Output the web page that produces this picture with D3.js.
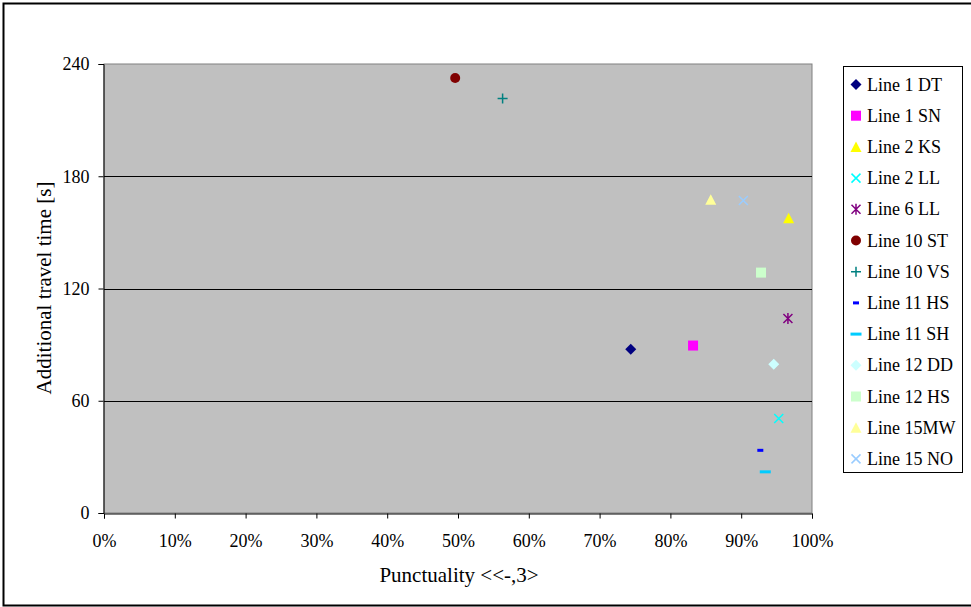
<!DOCTYPE html>
<html>
<head>
<meta charset="utf-8">
<script src="https://cdn.jsdelivr.net/npm/d3@7"></script>
<style>
  html, body { margin: 0; padding: 0; background: #fff; }
  svg text { font-family: "Liberation Serif", "Times New Roman", "DejaVu Serif", serif; fill: #000; }
</style>
</head>
<body>
<svg id="chart" width="971" height="607" style="display:block"></svg>
<script>
// Punctuality vs. additional travel time per line/direction
const lines = ["Line 1 DT", "Line 1 SN", "Line 2 KS", "Line 2 LL", "Line 6 LL", "Line 10 ST",
  "Line 10 VS", "Line 11 HS", "Line 11 SH", "Line 12 DD", "Line 12 HS", "Line 15MW", "Line 15 NO"];
const punctuality = [0.744, 0.832, 0.967, 0.953, 0.966, 0.496, 0.563, 0.927, 0.934, 0.946, 0.928, 0.857, 0.903];
const travelTime = [87.5, 89.5, 157.5, 50.5, 104, 232.5, 221.5, 33.5, 22, 79.5, 128.5, 167.5, 167];
const xTicks = [0, 0.1, 0.2, 0.3, 0.4, 0.5, 0.6, 0.7, 0.8, 0.9, 1.0];
const yTicks = [0, 60, 120, 180, 240];

// marker look per series
const markers = [
  { shape: "diamond", color: "#000080" },
  { shape: "square", color: "#FF00FF" },
  { shape: "triangle", color: "#FFFF00" },
  { shape: "cross", color: "#00FFFF" },
  { shape: "star", color: "#800080" },
  { shape: "circle", color: "#800000" },
  { shape: "plus", color: "#008080" },
  { shape: "shortdash", color: "#0000FF" },
  { shape: "longdash", color: "#00CCFF" },
  { shape: "diamond", color: "#CCFFFF" },
  { shape: "square", color: "#CCFFCC" },
  { shape: "triangle", color: "#FFFF99" },
  { shape: "cross", color: "#99CCFF" }
];

const svg = d3.select("#chart");

// outer frame
svg.append("rect").attr("x", 3.5).attr("y", 3.5).attr("width", 972).attr("height", 602)
  .attr("fill", "#fff").attr("stroke", "#000").attr("stroke-width", 2);

const plotL = 104, plotR = 812, plotT = 64, plotB = 513;
const x = d3.scaleLinear().domain([0, 1]).range([plotL, plotR]);
const y = d3.scaleLinear().domain([0, 240]).range([plotB, plotT]);

// plot area
svg.append("rect").attr("x", plotL).attr("y", plotT).attr("width", plotR - plotL).attr("height", plotB - plotT)
  .attr("fill", "#C0C0C0").attr("stroke", "#808080").attr("stroke-width", 1);

// horizontal gridlines
svg.append("g").selectAll("line").data(yTicks.filter(v => v > 0 && v < 240)).join("line")
  .attr("x1", plotL).attr("x2", plotR)
  .attr("y1", d => Math.round(y(d)) + 0.5).attr("y2", d => Math.round(y(d)) + 0.5)
  .attr("stroke", "#000").attr("stroke-width", 1);

// axes
const xAxis = svg.append("g").attr("transform", `translate(0,${plotB + 0.5})`)
  .call(d3.axisBottom(x).tickValues(xTicks).tickFormat(d3.format(".0%")).tickSize(5).tickPadding(16));
const yAxis = svg.append("g").attr("transform", `translate(${plotL - 0.5},0)`)
  .call(d3.axisLeft(y).tickValues(yTicks).tickSize(5).tickPadding(9));
[xAxis, yAxis].forEach(g => {
  g.attr("font-family", null).attr("font-size", null);
  g.select(".domain").attr("stroke", "#000");
  g.selectAll(".tick line").attr("stroke", "#000");
  g.selectAll(".tick text").attr("font-size", 18).attr("fill", "#000");
});

// axis titles
svg.append("text").attr("x", 459).attr("y", 582).attr("text-anchor", "middle")
  .attr("font-size", 21).text("Punctuality <<-,3>");
svg.append("text").attr("transform", "translate(51,288) rotate(-90)").attr("text-anchor", "middle")
  .attr("font-size", 21).text("Additional travel time [s]");

// marker drawing
function drawMarker(g, shape, color) {
  const s = 5;
  switch (shape) {
    case "diamond":
      g.append("path").attr("d", `M0,${-s - 0.5}L${s + 0.5},0L0,${s + 0.5}L${-s - 0.5},0Z`).attr("fill", color); break;
    case "square":
      g.append("rect").attr("x", -s).attr("y", -s).attr("width", 2 * s).attr("height", 2 * s).attr("fill", color); break;
    case "triangle":
      g.append("path").attr("d", `M0,${-s - 0.5}L${s + 0.5},${s}L${-s - 0.5},${s}Z`).attr("fill", color); break;
    case "circle":
      g.append("circle").attr("r", s).attr("fill", color); break;
    case "cross":
      g.append("path").attr("d", `M${-4.5},${-4.5}L4.5,4.5M${-4.5},4.5L4.5,${-4.5}`).attr("stroke", color).attr("stroke-width", 1.5); break;
    case "star":
      g.append("path").attr("d", `M${-4.5},${-4.5}L4.5,4.5M${-4.5},4.5L4.5,${-4.5}M0,${-5.5}L0,5.5`).attr("stroke", color).attr("stroke-width", 1.5); break;
    case "plus":
      g.append("path").attr("d", `M${-5},0L5,0M0,${-5}L0,5`).attr("stroke", color).attr("stroke-width", 1.5); break;
    case "shortdash":
      g.append("rect").attr("x", -3).attr("y", -1.5).attr("width", 6).attr("height", 3).attr("fill", color); break;
    case "longdash":
      g.append("rect").attr("x", -5.5).attr("y", -1.5).attr("width", 11).attr("height", 3).attr("fill", color); break;
  }
}

// data points
lines.forEach((name, i) => {
  const g = svg.append("g").attr("transform", `translate(${x(punctuality[i])},${y(travelTime[i])})`);
  drawMarker(g, markers[i].shape, markers[i].color);
});

// legend
const legend = svg.append("g");
legend.append("rect").attr("x", 843.5).attr("y", 66.5).attr("width", 119).attr("height", 406)
  .attr("fill", "#fff").attr("stroke", "#000").attr("stroke-width", 1);
lines.forEach((name, i) => {
  const cy = 84.5 + i * 31.2;
  const g = legend.append("g").attr("transform", `translate(856,${cy})`);
  drawMarker(g, markers[i].shape, markers[i].color);
  legend.append("text").attr("x", 867).attr("y", cy + 6).attr("font-size", 18).text(name);
});
</script>
</body>
</html>
